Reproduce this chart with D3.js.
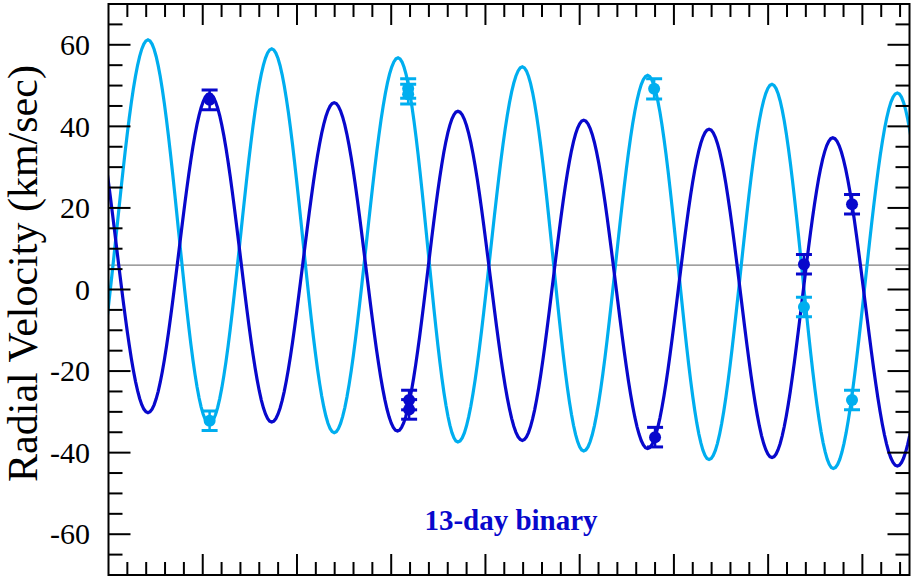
<!DOCTYPE html>
<html><head><meta charset="utf-8">
<script src="https://cdn.jsdelivr.net/npm/d3@7"></script>
<style>body{margin:0;background:#fff}</style>
</head><body>
<svg id="c" width="914" height="582"></svg>
<script>
// ---- data (time in days, velocity in km/s) ----
// extrema of the fitted curves
const lightT = [-2.44, 4.19, 10.70, 17.32, 23.95, 30.73, 37.08, 43.92, 50.43, 57.21, 63.73, 70.41, 76.92, 83.71, 90.26];
const lightV = [-31.8, 61.2, -32.9, 59.0, -35.1, 56.8, -37.4, 54.6, -39.6, 52.5, -41.7, 50.3, -43.9, 48.2, -46.0];
const darkT  = [-2.44, 4.19, 10.70, 17.32, 23.95, 30.67, 37.08, 43.92, 50.43, 57.21, 63.73, 70.41, 76.86, 83.71, 90.26];
const darkV  = [50.2, -30.2, 48.0, -32.5, 45.8, -34.7, 43.7, -37.0, 41.5, -39.0, 39.3, -41.2, 37.2, -43.3, 35.0];
// observations
const darkObsT = [10.73, 31.9, 31.9, 58.0, 73.8, 78.9];
const darkObsV = [46.5, -27.1, -29.4, -36.2, 6.2, 20.9];
const darkObsE = [2.4, 2.4, 2.4, 2.4, 2.4, 2.4];
const lightObsT = [10.73, 31.8, 31.8, 57.9, 73.8, 78.9];
const lightObsV = [-32.2, 49.3, 47.9, 49.2, -4.3, -27.1];
const lightObsE = [2.4, 2.4, 2.4, 2.5, 2.4, 2.4];
const systemicV = 6;
const yMajorTicks = [-60, -40, -20, 0, 20, 40, 60];
const yMinorTicks = [-65, -55, -50, -45, -35, -30, -25, -15, -10, -5, 5, 10, 15, 25, 30, 35, 45, 50, 55, 65];
const xMajorTicks = [10, 20, 30, 40, 50, 60, 70, 80];
const xMinorTicks = [2, 4, 6, 8, 12, 14, 16, 18, 22, 24, 26, 28, 32, 34, 36, 38, 42, 44, 46, 48, 52, 54, 56, 58, 62, 64, 66, 68, 72, 74, 76, 78, 82, 84];
const label = "13-day binary";
const yTitle = "Radial Velocity (km/sec)";

// ---- layout ----
const L = 108.5, R = 909.5, T = 4, B = 575;
const light = "#00AEEF", dark = "#0808CC";
const svg = d3.select("#c");
const x = d3.scaleLinear().domain([0, 85]).range([L, R]);
const y = d3.scaleLinear().domain([-70, 70]).range([B, T]);

svg.append("defs").append("clipPath").attr("id", "clip")
  .append("rect").attr("x", L).attr("y", T).attr("width", R - L).attr("height", B - T);

// custom half-cosine interpolation between consecutive extrema
function curveCosine(context) {
  let x0, y0, started = false;
  const n = 30;
  return {
    areaStart() {}, areaEnd() {},
    lineStart() { started = false; },
    lineEnd() {},
    point(px, py) {
      px = +px; py = +py;
      if (!started) { context.moveTo(px, py); started = true; }
      else {
        for (let i = 1; i <= n; i++) {
          const t = i / n;
          context.lineTo(x0 + (px - x0) * t, y0 + (py - y0) * (1 - Math.cos(Math.PI * t)) / 2);
        }
      }
      x0 = px; y0 = py;
    }
  };
}

const plot = svg.append("g").attr("clip-path", "url(#clip)");
plot.append("line").attr("x1", L).attr("x2", R).attr("y1", y(systemicV)).attr("y2", y(systemicV))
  .attr("stroke", "#808080").attr("stroke-width", 1.2);

const line = d3.line().x(d => x(d[0])).y(d => y(d[1])).curve(curveCosine);
plot.append("path").datum(lightT.map((t, i) => [t, lightV[i]]))
  .attr("d", line).attr("fill", "none").attr("stroke", light).attr("stroke-width", 3.2);
plot.append("path").datum(darkT.map((t, i) => [t, darkV[i]]))
  .attr("d", line).attr("fill", "none").attr("stroke", dark).attr("stroke-width", 3.2);

function drawObs(T_, V_, E_, col) {
  const g = plot.append("g");
  T_.forEach((t, i) => {
    const cx = x(t), v = V_[i], e = E_[i];
    g.append("line").attr("x1", cx).attr("x2", cx).attr("y1", y(v + e)).attr("y2", y(v - e))
      .attr("stroke", col).attr("stroke-width", 2.5);
    [v + e, v - e].forEach(w => g.append("line").attr("x1", cx - 8).attr("x2", cx + 8)
      .attr("y1", y(w)).attr("y2", y(w)).attr("stroke", col).attr("stroke-width", 3));
    g.append("circle").attr("cx", cx).attr("cy", y(v)).attr("r", 6).attr("fill", col);
  });
}
drawObs(lightObsT, lightObsV, lightObsE, light);
drawObs(darkObsT, darkObsV, darkObsE, dark);

// ---- axes ----
const ax = svg.append("g").attr("stroke", "#000").attr("stroke-width", 2);
function yTicks(vals, len) {
  vals.forEach(v => {
    ax.append("line").attr("x1", L).attr("x2", L + len).attr("y1", y(v)).attr("y2", y(v));
    ax.append("line").attr("x1", R).attr("x2", R - len).attr("y1", y(v)).attr("y2", y(v));
  });
}
function xTicks(vals, len) {
  vals.forEach(v => {
    ax.append("line").attr("x1", x(v)).attr("x2", x(v)).attr("y1", B).attr("y2", B - len);
    ax.append("line").attr("x1", x(v)).attr("x2", x(v)).attr("y1", T).attr("y2", T + len);
  });
}
yTicks(yMajorTicks, 22); yTicks(yMinorTicks, 14);
xTicks(xMajorTicks, 21); xTicks(xMinorTicks, 13);
svg.append("rect").attr("x", L).attr("y", T).attr("width", R - L).attr("height", B - T)
  .attr("fill", "none").attr("stroke", "#000").attr("stroke-width", 2);

svg.append("g").selectAll("text").data(yMajorTicks).join("text")
  .attr("x", 90).attr("y", d => y(d)).attr("dy", "0.34em").attr("text-anchor", "end")
  .attr("font-family", "Liberation Serif, Times New Roman, serif").attr("font-size", 30)
  .text(d => d);

svg.append("text").attr("transform", `translate(37,${(T + B) / 2 - 16}) rotate(-90)`)
  .attr("text-anchor", "middle").attr("font-family", "Liberation Serif, Times New Roman, serif")
  .attr("font-size", 42).text(yTitle);

svg.append("text").attr("x", 511).attr("y", 530).attr("text-anchor", "middle")
  .attr("font-family", "Liberation Serif, Times New Roman, serif").attr("font-weight", "bold")
  .attr("font-size", 29).attr("fill", dark).text(label);
</script>
</body></html>
